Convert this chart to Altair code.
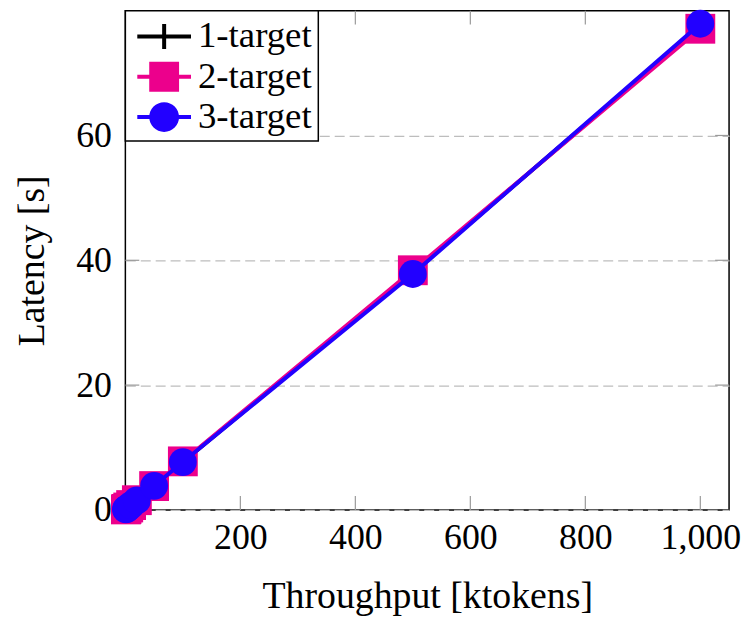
import altair as alt
import pandas as pd

series = ["1-target", "2-target", "3-target"]
throughput = [1, 2, 5, 10, 20, 50, 100, 500, 1000]
lat_1 = [0.08, 0.16, 0.39, 0.78, 1.55, 3.85, 7.70, 38.1, 77.5]
lat_2 = [0.08, 0.16, 0.39, 0.78, 1.56, 3.82, 7.78, 38.4, 77.1]
lat_3 = [0.08, 0.16, 0.38, 0.77, 1.53, 3.86, 7.67, 37.8, 77.9]
colors = ["#000000", "#ec008c", "#2200ff"]
x_ticks = [200, 400, 600, 800, 1000]
y_ticks = [0, 20, 40, 60]
y_inner_ticks = [20, 40, 60]

W, H = 607, 502
FONT = "Liberation Serif, Times New Roman, DejaVu Serif, serif"

rows = []
for s, vals in zip(series, [lat_1, lat_2, lat_3]):
    for x, y in zip(throughput, vals):
        rows.append({"series": s, "x": x, "y": y})
df = pd.DataFrame(rows)

xscale = alt.Scale(domain=[0, 1050], nice=False, zero=False)
yscale = alt.Scale(domain=[0, 80], nice=False, zero=False)

plus_path = "M-1,-0.15H1V0.15H-1Z M-0.15,-1H0.15V1H-0.15Z"
marker_shapes = [plus_path, "square", "circle"]
marker_sizes = [676, 900, 784]

# legend symbols: unit = 20 px (symbolSize 1600)
bar = "M-1.35,-0.1H1.35V0.1H-1.35Z "
legend_paths = [
    bar + "M-0.1,-0.625H0.1V0.625H-0.1Z",
    bar + "M-0.75,-0.75H0.75V0.75H-0.75Z",
    bar + "M-0.75,0A0.75 0.75 0 1 1 0.75,0A0.75 0.75 0 1 1 -0.75,0Z",
]

base = alt.Chart(df)

layers = []

axis_layer = base.mark_line(opacity=0).encode(
    x=alt.X("x:Q", scale=xscale,
            axis=alt.Axis(values=x_ticks, format=",d", grid=False, ticks=False, tickSize=0,
                          domain=False, title="Throughput [ktokens]",
                          labelPadding=11, titlePadding=22)),
    y=alt.Y("y:Q", scale=yscale,
            axis=alt.Axis(values=y_ticks, grid=True, gridDash=[10, 5], gridColor="#bdbdbd",
                          gridWidth=1.2, ticks=False, tickSize=0, domain=False,
                          title="Latency [s]", labelPadding=14, titlePadding=24)),
    detail="series:N",
)
layers.append(axis_layer)

xt = alt.Chart(pd.DataFrame({"v": x_ticks}))
yt = alt.Chart(pd.DataFrame({"v": y_inner_ticks}))
tick_color = "#9a9a9a"
layers.append(xt.mark_rule(color=tick_color, strokeWidth=1.2).encode(
    x=alt.X("v:Q", scale=xscale), y=alt.value(H), y2=alt.value(H - 14)))
layers.append(xt.mark_rule(color=tick_color, strokeWidth=1.2).encode(
    x=alt.X("v:Q", scale=xscale), y=alt.value(0), y2=alt.value(14)))
layers.append(yt.mark_rule(color=tick_color, strokeWidth=1.2).encode(
    y=alt.Y("v:Q", scale=yscale), x=alt.value(0), x2=alt.value(14)))
layers.append(yt.mark_rule(color=tick_color, strokeWidth=1.2).encode(
    y=alt.Y("v:Q", scale=yscale), x=alt.value(W), x2=alt.value(W - 14)))

for s, c, shp, sz in zip(series, colors, marker_shapes, marker_sizes):
    sub = base.transform_filter(alt.datum.series == s)
    layers.append(sub.mark_line(color=c, strokeWidth=4).encode(
        x=alt.X("x:Q", scale=xscale), y=alt.Y("y:Q", scale=yscale)))
    layers.append(sub.mark_point(filled=True, opacity=1, color=c, shape=shp, size=sz,
                                 strokeWidth=0).encode(
        x=alt.X("x:Q", scale=xscale), y=alt.Y("y:Q", scale=yscale)))

legend = alt.Legend(title=None, orient="top-left", offset=0, padding=6,
                    strokeColor="black", fillColor="white",
                    symbolSize=1600, symbolStrokeWidth=0, symbolOpacity=1,
                    symbolOffset=13, labelOffset=14,
                    labelFont=FONT, labelFontSize=37, labelColor="black",
                    rowPadding=2.5)
legend_layer = base.transform_filter("false").mark_point(filled=True, opacity=1).encode(
    color=alt.Color("series:N", scale=alt.Scale(domain=series, range=colors), legend=legend),
    shape=alt.Shape("series:N", scale=alt.Scale(domain=series, range=legend_paths), legend=legend),
)
layers.append(legend_layer)

chart = alt.layer(*layers).properties(
    width=W, height=H,
    autosize=alt.AutoSizeParams(type="none"),
    padding={"left": 118, "top": 1, "right": 12, "bottom": 107},
).configure_view(
    stroke="black", strokeWidth=1.5
).configure_axis(
    labelFont=FONT, labelFontSize=36, labelColor="black",
    titleFont=FONT, titleFontSize=38, titleColor="black", titleFontWeight="normal",
).configure_legend(
    strokeWidth=1.5
)

chart.save("out.html", embed_options={"renderer": "svg", "actions": False})
